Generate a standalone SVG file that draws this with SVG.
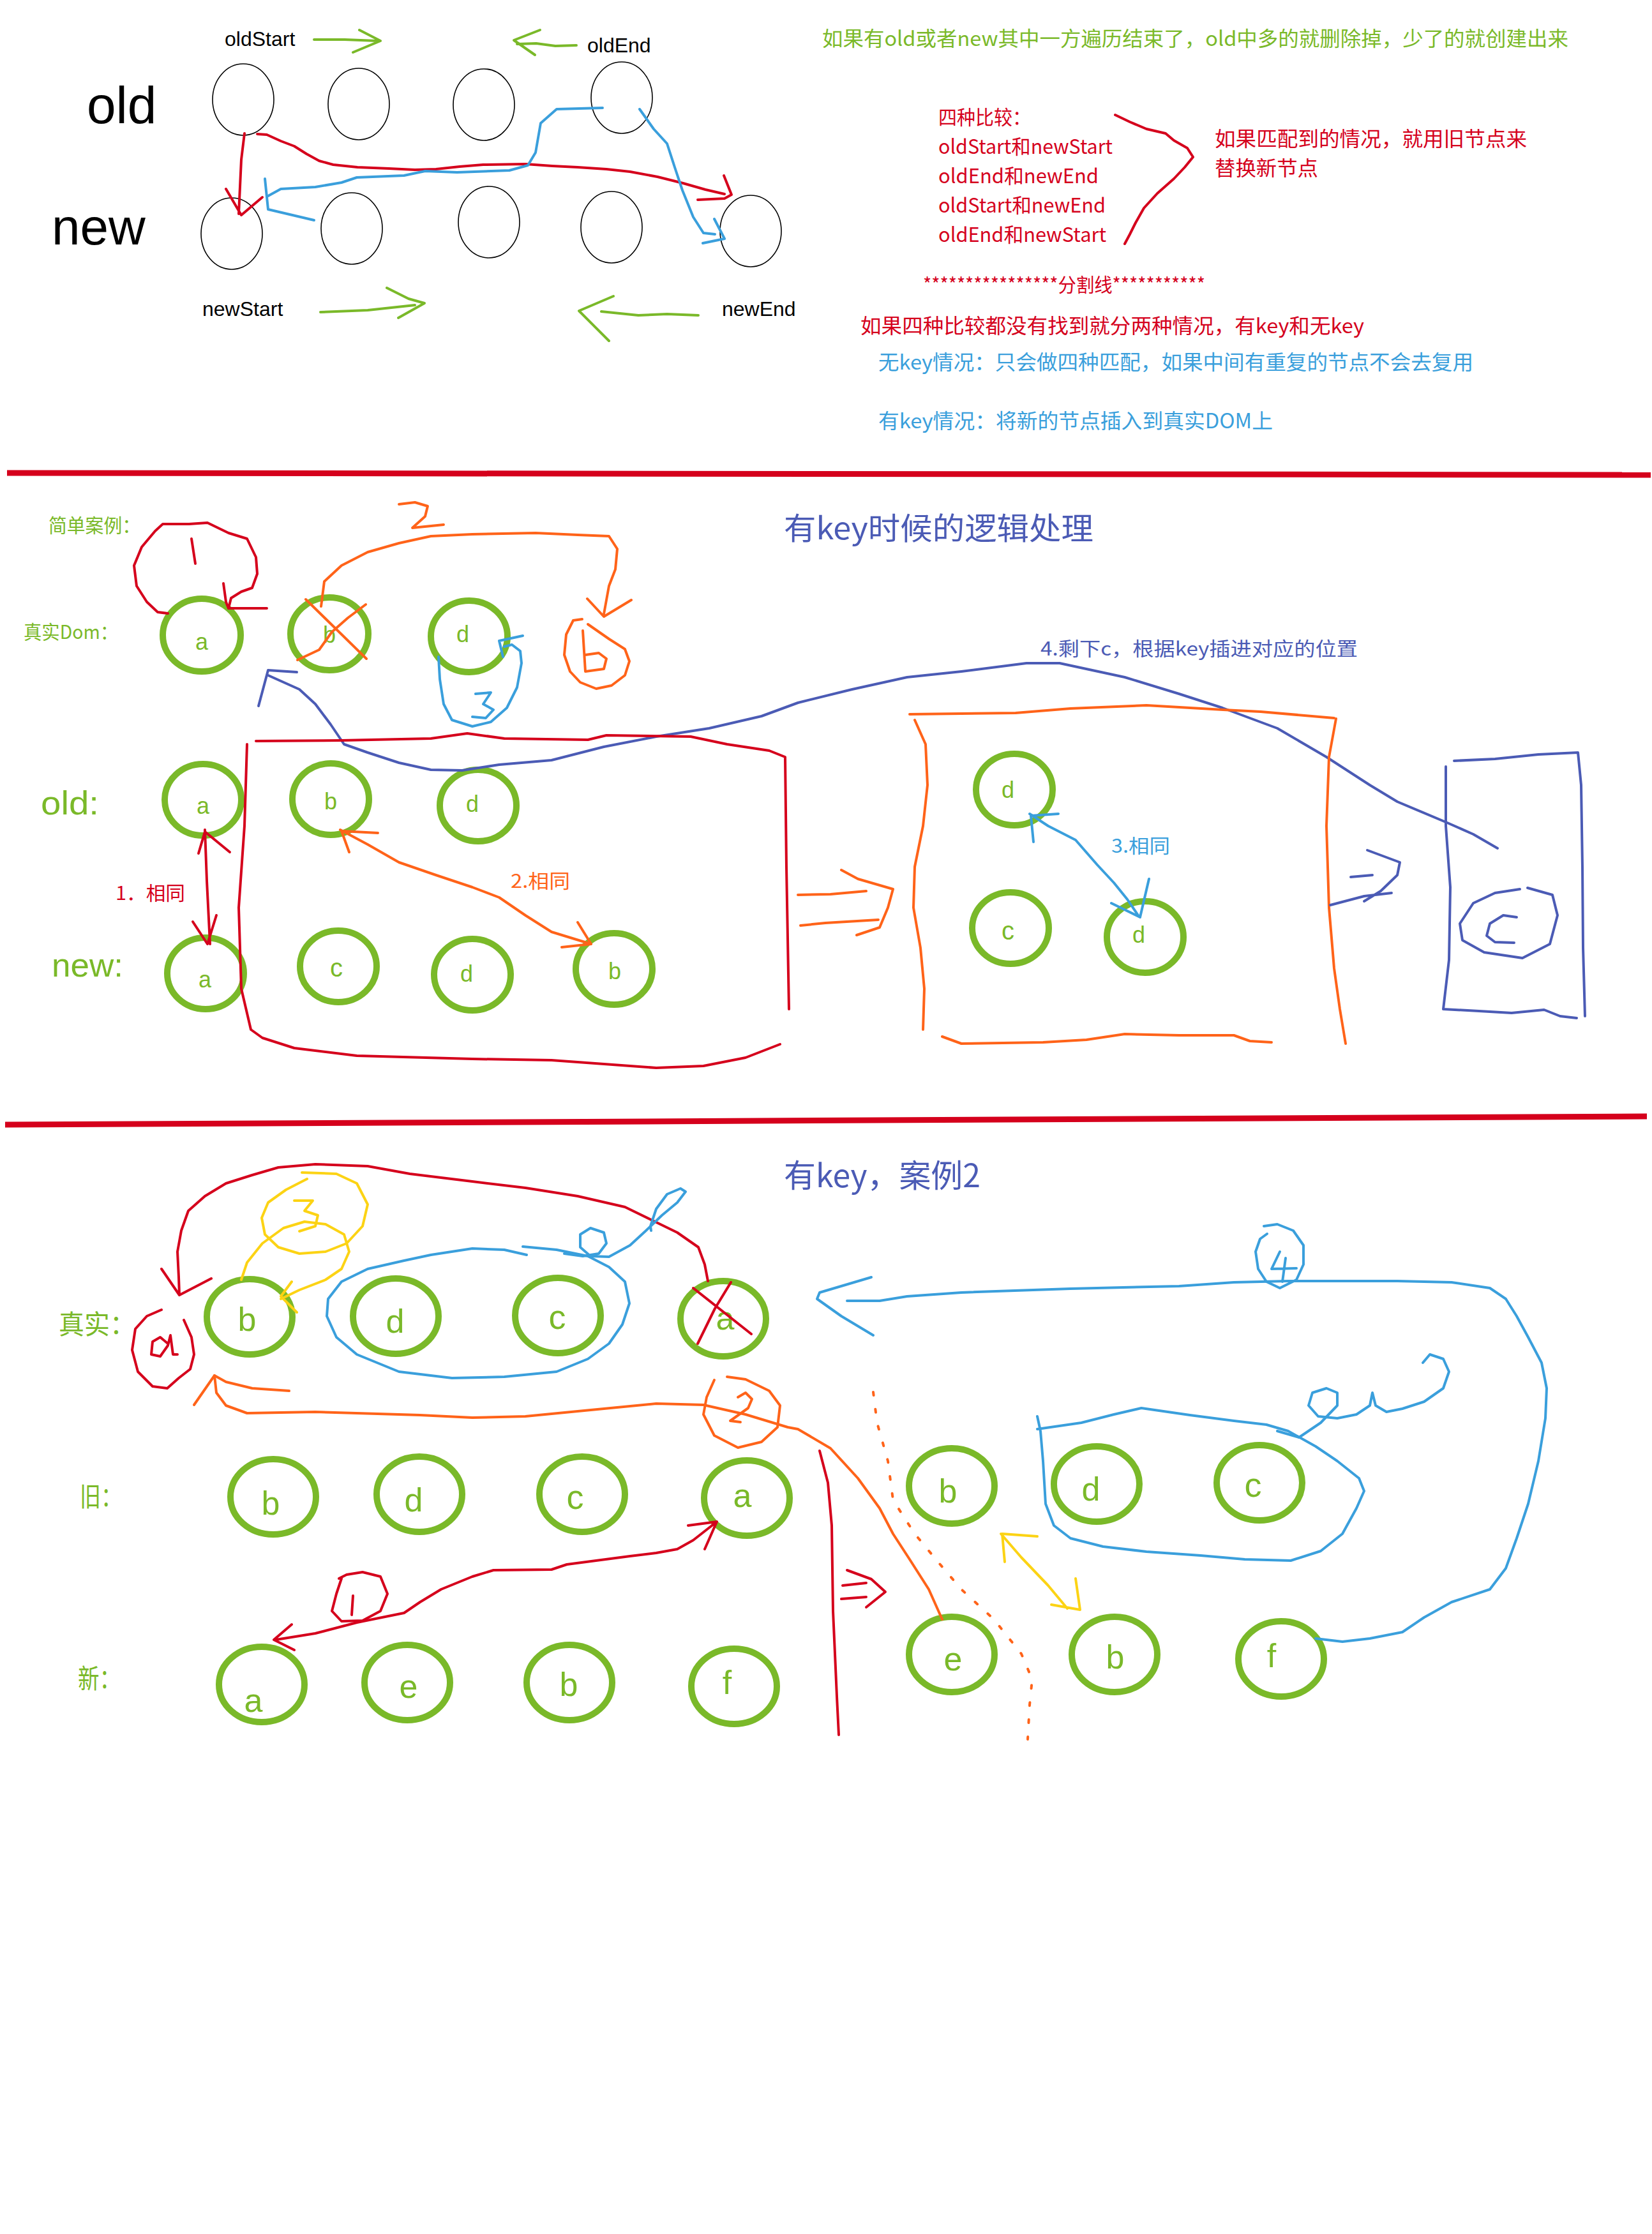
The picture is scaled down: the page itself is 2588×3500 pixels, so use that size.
<svg xmlns="http://www.w3.org/2000/svg" width="2588" height="3500" viewBox="0 0 2588 3500">
<style>
.bg{fill:#fff}
.thin{fill:none;stroke:#000;stroke-width:1.6}
.gn{fill:none;stroke:#7ab929;stroke-width:10}
.lat{font-family:"Liberation Sans",Arial,sans-serif}
.cjk{font-family:"Noto Sans CJK SC","Liberation Sans",sans-serif}
.lbl{font-family:"Liberation Sans",Arial,sans-serif;fill:#7ab929;text-anchor:middle}
.p{fill:none;stroke-linecap:round;stroke-linejoin:round;stroke-width:4}
.red{stroke:#d5001c}.org{stroke:#ff6319}.blu{stroke:#3a9fdc}.ind{stroke:#4b5bb5}.yel{stroke:#fcd314}.grn{stroke:#7ab929}
.fg{fill:#7ab929}.fr{fill:#d5001c}.fb{fill:#3a9fdc}.fi{fill:#4b5bb5}.fo{fill:#ff6319}
</style>
<rect class="bg" x="0" y="0" width="2588" height="3500"/>

<!-- ===== Section 1 ===== -->
<g id="labels-top">
<text class="lat" x="136" y="193" font-size="82">old</text>
<text class="lat" x="81" y="383" font-size="80">new</text>
<text class="lat" x="352" y="72" font-size="32">oldStart</text>
<text class="lat" x="920" y="82" font-size="32">oldEnd</text>
<text class="lat" x="317" y="495" font-size="32">newStart</text>
<text class="lat" x="1131" y="495" font-size="32">newEnd</text>
</g>
<g id="old-nodes">
<ellipse id="old1" class="thin" cx="381" cy="156" rx="48" ry="56"/>
<ellipse id="old2" class="thin" cx="562" cy="163" rx="48" ry="56"/>
<ellipse id="old3" class="thin" cx="758" cy="164" rx="48" ry="56"/>
<ellipse id="old4" class="thin" cx="974" cy="153" rx="48" ry="56"/>
</g>
<g id="new-nodes">
<ellipse id="new1" class="thin" cx="363" cy="366" rx="48" ry="56"/>
<ellipse id="new2" class="thin" cx="551" cy="358" rx="48" ry="56"/>
<ellipse id="new3" class="thin" cx="766" cy="348" rx="48" ry="56"/>
<ellipse id="new4" class="thin" cx="958" cy="356" rx="48" ry="56"/>
<ellipse id="new5" class="thin" cx="1176" cy="362" rx="48" ry="56"/>
</g>
<g id="notes-top">
<text class="cjk fg" x="1288" y="72" font-size="32" textLength="1169" lengthAdjust="spacingAndGlyphs">如果有old或者new其中一方遍历结束了，old中多的就删除掉，少了的就创建出来</text>
<text class="cjk fr" x="1470" y="195" font-size="31" textLength="145" lengthAdjust="spacingAndGlyphs">四种比较：</text>
<text class="cjk fr" x="1470" y="241" font-size="31" textLength="273" lengthAdjust="spacingAndGlyphs">oldStart和newStart</text>
<text class="cjk fr" x="1470" y="287" font-size="31" textLength="251" lengthAdjust="spacingAndGlyphs">oldEnd和newEnd</text>
<text class="cjk fr" x="1470" y="333" font-size="31" textLength="262" lengthAdjust="spacingAndGlyphs">oldStart和newEnd</text>
<text class="cjk fr" x="1470" y="379" font-size="31" textLength="263" lengthAdjust="spacingAndGlyphs">oldEnd和newStart</text>
<text class="cjk fr" x="1903" y="229" font-size="32" textLength="489" lengthAdjust="spacingAndGlyphs">如果匹配到的情况，就用旧节点来</text>
<text class="cjk fr" x="1903" y="275" font-size="32" textLength="162" lengthAdjust="spacingAndGlyphs">替换新节点</text>
<text class="cjk fr" x="1446" y="457" font-size="30" textLength="442" lengthAdjust="spacingAndGlyphs">****************分割线***********</text>
<text class="cjk fr" x="1348" y="522" font-size="32" textLength="789" lengthAdjust="spacingAndGlyphs">如果四种比较都没有找到就分两种情况，有key和无key</text>
<text class="cjk fb" x="1376" y="579" font-size="32" textLength="932" lengthAdjust="spacingAndGlyphs">无key情况：只会做四种匹配，如果中间有重复的节点不会去复用</text>
<text class="cjk fb" x="1376" y="671" font-size="32" textLength="618" lengthAdjust="spacingAndGlyphs">有key情况：将新的节点插入到真实DOM上</text>
</g>
<g id="connectors-top">
<path class="p grn" d="M492,62 L540,62 L590,64 M563,47 L596,64 L553,82"/>
<path class="p grn" d="M903,71 L870,72 L840,68 L810,69 M846,47 L805,63 L838,86"/>
<path class="p grn" d="M502,489 L576,486 L650,478 M606,451 L640,468 L665,475 L624,498"/>
<path class="p grn" d="M1094,494 L1045,492 L1000,494 L942,488 M961,464 L907,487 L954,534"/>
<path class="p red" d="M383,209 L378,250 L374,335 M354,296 L378,337 L411,309"/>
<path class="p red" d="M403,210 L418,211 L440,221 L461,229 L480,241 L500,252 L522,258 L560,262 L609,264 L650,266 L683,265 L720,261 L757,258 L823,257 L865,260 L905,262 L950,265 L987,269 L1030,277 L1070,287 L1105,297 L1135,304"/>
<path class="p red" d="M1134,275 L1146,305 L1135,311 L1093,313"/>
<path class="p blu" d="M944,169 L872,171 L847,193 L839,239 L827,259 L798,267 L716,270 L666,268 L633,275 L559,278 L535,286 L494,293 L440,296 L420,307"/>
<path class="p blu" d="M415,280 L420,328 L492,345"/>
<path class="p blu" d="M1002,171 L1024,202 L1045,225 L1057,262 L1069,298 L1086,340 L1102,365 L1120,367 M1119,343 L1135,374 L1101,381"/>
<path class="p red" d="M1747,180 L1770,191 L1796,202 L1826,209 L1839,220 L1860,232 L1869,246 L1856,262 L1839,280 L1813,303 L1792,326 L1779,349 L1770,367 L1762,382"/>
</g>

<line x1="11" y1="741" x2="2586" y2="744" stroke="#d5001c" stroke-width="9"/>

<!-- ===== Section 2 ===== -->
<g id="labels-mid">
<text class="cjk fg" x="76" y="834" font-size="30" textLength="144" lengthAdjust="spacingAndGlyphs">简单案例：</text>
<text class="cjk fg" x="37" y="1001" font-size="30" textLength="148" lengthAdjust="spacingAndGlyphs">真实Dom：</text>
<text class="cjk fi" x="1228" y="845" font-size="48" textLength="485" lengthAdjust="spacingAndGlyphs">有key时候的逻辑处理</text>
<text class="lat fg" x="64" y="1276" font-size="52" textLength="91" lengthAdjust="spacingAndGlyphs">old:</text>
<text class="lat fg" x="81" y="1530" font-size="52" textLength="112" lengthAdjust="spacingAndGlyphs">new:</text>
<text class="cjk fr" x="181" y="1410" font-size="30" textLength="109" lengthAdjust="spacingAndGlyphs">1．相同</text>
<text class="cjk fo" x="800" y="1391" font-size="30" textLength="93" lengthAdjust="spacingAndGlyphs">2.相同</text>
<text class="cjk fb" x="1741" y="1336" font-size="30" textLength="92" lengthAdjust="spacingAndGlyphs">3.相同</text>
<text class="cjk fi" x="1630" y="1027" font-size="30" textLength="497" lengthAdjust="spacingAndGlyphs">4.剩下c，根据key插进对应的位置</text>
</g>
<g id="dom-a"><ellipse class="gn" cx="316" cy="995" rx="61" ry="57"/><text class="lbl" x="316" y="1018" font-size="36">a</text></g>
<g id="dom-b"><ellipse class="gn" cx="516" cy="993" rx="61" ry="57"/><text class="lbl" x="516" y="1007" font-size="36">b</text></g>
<g id="dom-d"><ellipse class="gn" cx="735" cy="997" rx="60" ry="56"/><text class="lbl" x="725" y="1006" font-size="36">d</text></g>
<g id="m-old-a"><ellipse class="gn" cx="318" cy="1253" rx="60" ry="56"/><text class="lbl" x="318" y="1275" font-size="36">a</text></g>
<g id="m-old-b"><ellipse class="gn" cx="518" cy="1252" rx="60" ry="56"/><text class="lbl" x="518" y="1268" font-size="36">b</text></g>
<g id="m-old-d"><ellipse class="gn" cx="749" cy="1262" rx="60" ry="56"/><text class="lbl" x="740" y="1272" font-size="36">d</text></g>
<g id="m-new-a"><ellipse class="gn" cx="322" cy="1525" rx="60" ry="56"/><text class="lbl" x="321" y="1547" font-size="36">a</text></g>
<g id="m-new-c"><ellipse class="gn" cx="530" cy="1514" rx="60" ry="56"/><text class="lbl" x="527" y="1530" font-size="40">c</text></g>
<g id="m-new-d"><ellipse class="gn" cx="740" cy="1527" rx="60" ry="56"/><text class="lbl" x="731" y="1538" font-size="36">d</text></g>
<g id="m-new-b"><ellipse class="gn" cx="962" cy="1518" rx="60" ry="56"/><text class="lbl" x="963" y="1534" font-size="36">b</text></g>
<g id="box-d1"><ellipse class="gn" cx="1589" cy="1237" rx="60" ry="56"/><text class="lbl" x="1579" y="1250" font-size="36">d</text></g>
<g id="box-c"><ellipse class="gn" cx="1583" cy="1454" rx="60" ry="56"/><text class="lbl" x="1579" y="1472" font-size="40">c</text></g>
<g id="box-d2"><ellipse class="gn" cx="1794" cy="1468" rx="60" ry="56"/><text class="lbl" x="1784" y="1477" font-size="36">d</text></g>
<g id="connectors-mid">
<path class="p red" d="M418,953 L358,953 L362,937 L378,927 L395,921 L403,899 L401,873 L387,844 L358,835 L325,819 L296,821 L255,821 L243,832 L222,857 L210,886 L214,918 L230,943 L247,959 L263,961"/>
<path class="p red" d="M350,914 L354,943 L358,953"/>
<path class="p red" d="M300,844 L306,883"/>
<path class="p org" d="M479,939 L574,1032 M466,1034 L500,1018 L520,990 L545,968 L573,947"/>
<path class="p org" d="M625,790 L650,787 L670,793 L666,809 L646,827 L695,822"/>
<path class="p org" d="M503,950 L508,911 L535,886 L576,865 L625,851 L675,840 L740,837 L839,835 L905,838 L954,840 L967,860 L964,892 L954,918 L946,962 M920,938 L946,966 L989,940"/>
<path class="p org" d="M912,970 L898,972 L887,994 L884,1026 L893,1052 L909,1069 L934,1079 L958,1074 L979,1058 L986,1036 L979,1017 L954,1001 L921,978"/>
<path class="p org" d="M913,988 L917,1052 L946,1048 L950,1032 L938,1023 L917,1026"/>
<path class="p blu" d="M687,1029 L689,1064 L695,1103 L708,1128 L740,1138 L769,1131 L794,1109 L810,1077 L817,1039 L815,1020 L802,1010 L790,1013 M819,996 L782,1004 L788,1029"/>
<path class="p blu" d="M745,1087 L769,1085 L757,1103 L773,1112 L761,1125 L740,1123"/>
<path class="p ind" d="M420,1058 L469,1080 L494,1103 L518,1135 L539,1166 L576,1179 L625,1195 L675,1206 L724,1207 L782,1198 L864,1191 L946,1170 L1028,1154 L1111,1141 L1193,1122 L1250,1101 L1335,1080 L1421,1061 L1506,1052 L1608,1039 L1660,1039 L1762,1061 L1847,1087 L1915,1109 L2001,1141 L2078,1186 L2146,1230 L2189,1256 L2265,1288 L2308,1307 L2346,1329"/>
<path class="p ind" d="M465,1053 L420,1050 L405,1106"/>
<path class="p red" d="M401,1161 L535,1160 L675,1157 L732,1149 L790,1157 L921,1159 L950,1152 L1082,1154 L1139,1166 L1205,1176 L1230,1186 L1232,1358 L1236,1581"/>
<path class="p red" d="M387,1166 L383,1294 L374,1422 L378,1549 L393,1613 L411,1626 L461,1642 L559,1654 L740,1659 L864,1661 L1028,1673 L1102,1670 L1168,1657 L1222,1636"/>
<path class="p red" d="M321,1300 L324,1380 L329,1479 M311,1337 L321,1303 L360,1335 M302,1444 L325,1479 L339,1434"/>
<path class="p org" d="M533,1300 L576,1323 L625,1351 L683,1371 L740,1390 L782,1406 L823,1434 L864,1460 L926,1479 M592,1305 L535,1302 L547,1335 M905,1445 L926,1479 L880,1484"/>
<path class="p org" d="M1250,1402 L1301,1401 L1357,1396 M1254,1450 L1293,1446 L1376,1441 M1318,1363 L1344,1377 L1399,1393 L1391,1422 L1378,1453 L1342,1465"/>
<path class="p org" d="M1425,1119 L1591,1117 L1677,1110 L1796,1105 L1916,1112 L1975,1115 L2090,1125"/>
<path class="p org" d="M1433,1128 L1450,1166 L1453,1230 L1446,1294 L1433,1358 L1431,1422 L1442,1485 L1448,1549 L1446,1613"/>
<path class="p org" d="M2093,1126 L2082,1186 L2078,1294 L2082,1422 L2090,1517 L2099,1581 L2108,1635"/>
<path class="p org" d="M1476,1624 L1506,1635 L1634,1633 L1702,1629 L1762,1620 L1847,1622 L1933,1622 L1958,1631 L1992,1633"/>
<path class="p blu" d="M1613,1275 L1642,1294 L1685,1316 L1719,1355 L1745,1383 L1766,1409 L1783,1434 M1619,1319 L1615,1278 L1658,1275 M1741,1415 L1786,1437 L1800,1377"/>
<path class="p ind" d="M2142,1332 L2193,1351 L2189,1371 L2163,1396 L2137,1412 M2116,1374 L2150,1371 M2084,1418 L2137,1404 L2180,1399"/>
<path class="p ind" d="M2278,1192 L2342,1189 L2410,1182 L2472,1179 L2477,1230 L2479,1358 L2480,1485 L2483,1592"/>
<path class="p ind" d="M2265,1201 L2265,1294 L2272,1390 L2270,1504 L2261,1581 L2317,1584 L2368,1587 L2419,1582 L2444,1592 L2470,1595"/>
<path class="p ind" d="M2381,1393 L2342,1399 L2308,1415 L2287,1447 L2291,1473 L2325,1492 L2385,1501 L2428,1479 L2440,1434 L2432,1402 L2393,1391"/>
<path class="p ind" d="M2376,1437 L2355,1434 L2334,1447 L2329,1466 L2342,1476 L2372,1477"/>
</g>

<line x1="8" y1="1762" x2="2580" y2="1749" stroke="#d5001c" stroke-width="9"/>

<!-- ===== Section 3 ===== -->
<g id="labels-bottom">
<text class="cjk fi" x="1228" y="1860" font-size="50" textLength="308" lengthAdjust="spacingAndGlyphs">有key，案例2</text>
<text class="cjk fg" x="92" y="2090" font-size="42" textLength="120" lengthAdjust="spacingAndGlyphs">真实：</text>
<text class="cjk fg" x="125" y="2360" font-size="42" textLength="66" lengthAdjust="spacingAndGlyphs">旧：</text>
<text class="cjk fg" x="122" y="2645" font-size="42" textLength="67" lengthAdjust="spacingAndGlyphs">新：</text>
</g>
<g id="r-b"><ellipse class="gn" cx="391" cy="2063" rx="67" ry="59"/><text class="lbl" x="387" y="2085" font-size="52">b</text></g>
<g id="r-d"><ellipse class="gn" cx="620" cy="2062" rx="67" ry="59"/><text class="lbl" x="619" y="2088" font-size="52">d</text></g>
<g id="r-c"><ellipse class="gn" cx="874" cy="2061" rx="67" ry="59"/><text class="lbl" x="873" y="2082" font-size="54">c</text></g>
<g id="r-a"><ellipse class="gn" cx="1133" cy="2066" rx="67" ry="59"/><text class="lbl" x="1136" y="2083" font-size="52">a</text></g>
<g id="o-b"><ellipse class="gn" cx="428" cy="2345" rx="67" ry="59"/><text class="lbl" x="424" y="2373" font-size="52">b</text></g>
<g id="o-d"><ellipse class="gn" cx="657" cy="2341" rx="67" ry="59"/><text class="lbl" x="648" y="2368" font-size="52">d</text></g>
<g id="o-c"><ellipse class="gn" cx="912" cy="2341" rx="67" ry="59"/><text class="lbl" x="901" y="2364" font-size="54">c</text></g>
<g id="o-a"><ellipse class="gn" cx="1170" cy="2347" rx="67" ry="59"/><text class="lbl" x="1163" y="2361" font-size="52">a</text></g>
<g id="n-a"><ellipse class="gn" cx="410" cy="2639" rx="67" ry="59"/><text class="lbl" x="397" y="2682" font-size="52">a</text></g>
<g id="n-e"><ellipse class="gn" cx="638" cy="2636" rx="67" ry="59"/><text class="lbl" x="640" y="2660" font-size="52">e</text></g>
<g id="n-b"><ellipse class="gn" cx="892" cy="2636" rx="67" ry="59"/><text class="lbl" x="891" y="2657" font-size="52">b</text></g>
<g id="n-f"><ellipse class="gn" cx="1150" cy="2642" rx="67" ry="59"/><text class="lbl" x="1139" y="2654" font-size="52">f</text></g>
<g id="x-b"><ellipse class="gn" cx="1491" cy="2328" rx="67" ry="59"/><text class="lbl" x="1485" y="2354" font-size="52">b</text></g>
<g id="x-d"><ellipse class="gn" cx="1718" cy="2325" rx="67" ry="59"/><text class="lbl" x="1709" y="2351" font-size="52">d</text></g>
<g id="x-c"><ellipse class="gn" cx="1973" cy="2323" rx="67" ry="59"/><text class="lbl" x="1963" y="2345" font-size="54">c</text></g>
<g id="x-e"><ellipse class="gn" cx="1491" cy="2592" rx="67" ry="59"/><text class="lbl" x="1493" y="2617" font-size="52">e</text></g>
<g id="x-b2"><ellipse class="gn" cx="1746" cy="2592" rx="67" ry="59"/><text class="lbl" x="1747" y="2614" font-size="52">b</text></g>
<g id="x-f"><ellipse class="gn" cx="2007" cy="2599" rx="67" ry="59"/><text class="lbl" x="1992" y="2612" font-size="52">f</text></g>
<g id="connectors-bottom">
<path class="p red" d="M1086,2018 L1177,2090 M1145,2009 L1120,2050 L1093,2105"/>
<path class="p red" d="M1109,2007 L1104,1981 L1094,1954 L1061,1931 L1020,1911 L979,1891 L905,1874 L823,1861 L740,1851 L642,1839 L576,1827 L494,1824 L436,1829 L395,1841 L354,1854 L321,1874 L295,1897 L284,1928 L278,1961 L280,2001 L281,2029 M253,1988 L281,2029 L331,2003"/>
<path class="p red" d="M253,2052 L230,2062 L212,2082 L207,2115 L216,2149 L239,2172 L262,2175 L280,2159 L298,2145 L304,2122 L300,2095 L288,2068"/>
<path class="p red" d="M263,2105 L251,2095 L239,2102 L237,2122 L251,2125 L263,2108 L267,2092 L271,2122 L278,2122"/>
<path class="p yel" d="M473,1837 L527,1839 L559,1854 L576,1887 L568,1921 L543,1948 L510,1961 L469,1964 L436,1954 L415,1934 L410,1908 L420,1884 L448,1864 L481,1847"/>
<path class="p yel" d="M461,1881 L490,1881 L477,1897 L498,1904 L494,1921 L469,1929"/>
<path class="p yel" d="M378,2005 L387,1978 L411,1948 L444,1924 L477,1914 L510,1918 L539,1934 L547,1961 L535,1988 L510,2005 L469,2021 L440,2035 M457,2008 L440,2031 L465,2056"/>
<path class="p blu" d="M825,1966 L790,1958 L740,1956 L675,1966 L633,1975 L576,1988 L535,2008 L514,2035 L512,2062 L527,2095 L559,2122 L625,2149 L708,2159 L790,2157 L872,2149 L921,2129 L954,2105 L975,2075 L986,2042 L979,2008 L954,1985 L921,1968 L872,1958 L819,1953"/>
<path class="p blu" d="M884,1964 L913,1968 L938,1964 L950,1948 L946,1931 L925,1924 L909,1934 L909,1954 L925,1968 L954,1969 L987,1951 L1012,1928 L1037,1904 L1061,1884 L1074,1867 L1066,1862 L1045,1871 L1028,1894 L1019,1921 L1020,1928"/>
<path class="p org" d="M1476,2537 L1455,2490 L1425,2443 L1399,2403 L1378,2363 L1344,2316 L1301,2269 L1250,2239 L1234,2236 L1168,2216 L1102,2201 L1028,2199 L905,2211 L823,2219 L740,2221 L658,2217 L494,2212 L387,2214 L354,2202 L339,2182 L336,2155"/>
<path class="p org" d="M304,2201 L336,2155 L354,2165 L395,2175 L453,2179"/>
<path class="p org" d="M1119,2162 L1107,2189 L1102,2216 L1119,2249 L1156,2268 L1193,2259 L1218,2236 L1222,2202 L1205,2179 L1168,2161 L1139,2157"/>
<path class="p org" d="M1156,2189 L1168,2182 L1178,2192 L1172,2206 L1144,2226 L1160,2228"/>
<path class="p red" d="M432,2569 L494,2559 L559,2542 L633,2527 L658,2510 L691,2490 L740,2470 L773,2460 L864,2459 L888,2451 L987,2438 L1028,2433 L1061,2427 L1086,2413 L1123,2384 M1078,2390 L1123,2384 L1104,2427 M457,2545 L429,2569 L461,2585"/>
<path class="p red" d="M535,2473 L527,2497 L520,2524 L535,2540 L568,2539 L596,2524 L607,2497 L596,2470 L568,2463 L543,2467 L531,2473"/>
<path class="p red" d="M553,2500 L551,2530"/>
<path class="p red" d="M1284,2273 L1297,2323 L1303,2390 L1305,2524 L1311,2658 L1314,2718"/>
<path class="p red" d="M1320,2484 L1357,2480 M1318,2505 L1357,2502 M1327,2460 L1365,2474 L1387,2494 L1357,2518"/>
<path class="p org" stroke-dasharray="5 22" d="M1368,2181 L1374,2229 L1391,2289 L1399,2350 L1433,2403 L1472,2450 L1506,2490 L1557,2537 L1600,2591 L1617,2631 L1613,2671 L1610,2725"/>
<path class="p yel" d="M1568,2403 L1600,2440 L1642,2484 L1672,2520 M1625,2407 L1570,2403 L1574,2447 M1647,2514 L1692,2522 L1685,2473"/>
<path class="p blu" d="M1625,2219 L1630,2242 L1634,2289 L1638,2356 L1651,2390 L1677,2410 L1728,2423 L1796,2431 L1881,2437 L1950,2443 L2022,2445 L2069,2430 L2103,2403 L2125,2363 L2137,2336 L2129,2316 L2095,2289 L2061,2266 L2018,2242 L1984,2232 L1933,2226 L1864,2217 L1788,2206 L1745,2216 L1694,2229 L1625,2239"/>
<path class="p blu" d="M2001,2242 L2035,2252 L2069,2229 L2095,2202 L2095,2182 L2078,2175 L2056,2182 L2050,2202 L2065,2219 L2095,2222 L2125,2216 L2146,2202 L2150,2182 L2155,2202 L2172,2212 L2197,2207 L2231,2196 L2261,2175 L2270,2149 L2261,2129 L2240,2122 L2229,2135"/>
<path class="p blu" d="M2061,2567 L2103,2572 L2146,2567 L2197,2557 L2231,2534 L2274,2510 L2334,2490 L2359,2457 L2376,2410 L2394,2356 L2410,2289 L2421,2222 L2423,2175 L2415,2135 L2394,2095 L2376,2062 L2359,2035 L2334,2018 L2274,2009 L2189,2007 L2018,2007 L1933,2009 L1847,2015 L1677,2019 L1506,2025 L1421,2031 L1378,2038 L1327,2038"/>
<path class="p blu" d="M1365,2001 L1284,2025 L1280,2035 L1318,2062 L1368,2092"/>
<path class="p blu" d="M1980,1921 L2001,1918 L2026,1928 L2042,1951 L2042,1981 L2031,2005 L2005,2018 L1984,2008 L1971,1988 L1967,1961 L1974,1941 L1985,1933"/>
<path class="p blu" d="M2005,1961 L1992,1988 L2031,1987 M2014,1971 L2009,2008"/>
</g>
</svg>
